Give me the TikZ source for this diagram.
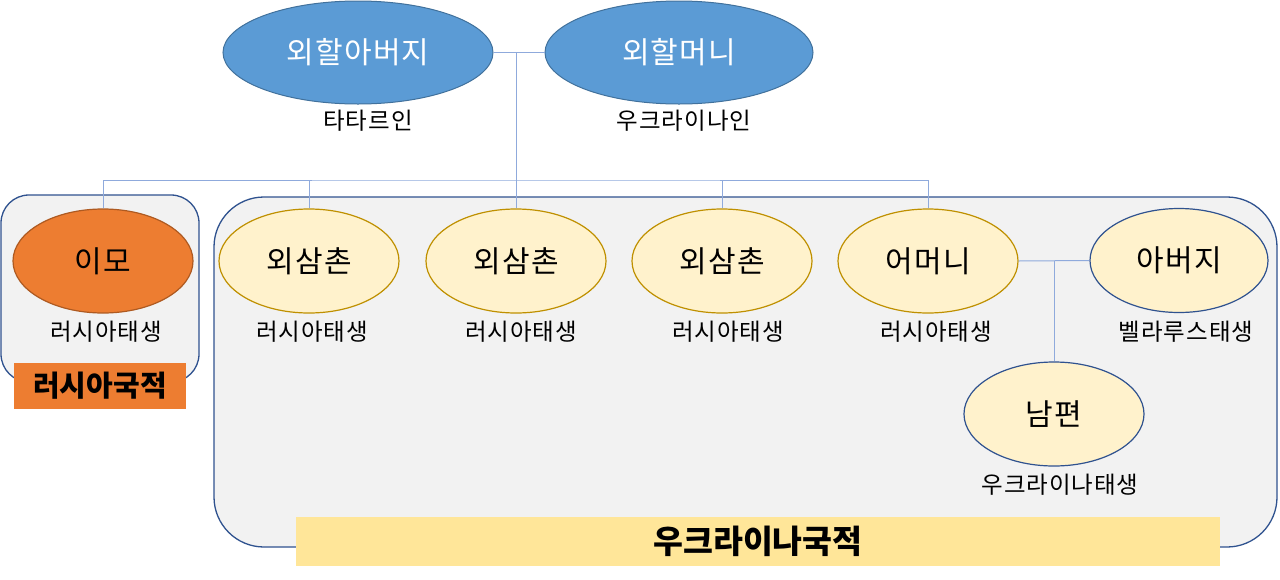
\documentclass[tikz,border=0pt]{standalone}
\usepackage{fontspec}
\setmainfont{Noto Sans CJK KR}
\newfontfamily\spaced[LetterSpace=4]{Noto Sans CJK KR}
\usetikzlibrary{shapes.geometric}
\definecolor{gpfill}{HTML}{5B9BD5}
\definecolor{gpline}{HTML}{41719C}
\definecolor{orfill}{HTML}{ED7D31}
\definecolor{orline}{HTML}{AE5A21}
\definecolor{yefill}{HTML}{FFF2CC}
\definecolor{yeline}{HTML}{BF9000}
\definecolor{bluline}{HTML}{2F528F}
\definecolor{boxfill}{HTML}{F2F2F2}
\definecolor{conn}{HTML}{8FAADC}
\definecolor{labyel}{HTML}{FFE699}
\tikzset{
  gpnode/.style={ellipse, draw=gpline, fill=gpfill, line width=1pt, minimum width=270pt, minimum height=103pt, inner sep=0pt, text=white, font=\spaced\fontsize{30}{34}\selectfont},
  kidnode/.style={ellipse, draw=yeline, fill=yefill, line width=1.2pt, minimum width=180pt, minimum height=104pt, inner sep=0pt, font=\spaced\fontsize{30}{34}\selectfont},
  bluekid/.style={kidnode, draw=bluline},
  imonode/.style={kidnode, draw=orline, fill=orfill},
  subtxt/.style={inner sep=0pt, font=\spaced\fontsize{23.5}{27}\selectfont},
  grpbox/.style={draw=bluline, fill=boxfill, line width=1.3pt},
  connline/.style={draw=conn, line width=1pt},
  labbox/.style={inner sep=0pt, font=\bfseries\fontsize{29}{32}\selectfont}
}
\begin{document}
\begin{tikzpicture}[x=1pt,y=-1pt]
\useasboundingbox (0,0) rectangle (1280,579);
% group boxes
\path[grpbox, rounded corners=28pt] (1,195) rectangle (199,382);
\path[grpbox, rounded corners=50pt] (214,197) rectangle (1277,547);
% nationality labels
\node[labbox, fill=orfill, minimum width=172pt, minimum height=46pt] (ruslab) at (100,386) {러시아국적};
\node[labbox, fill=labyel, minimum width=924pt, minimum height=49pt, font=\bfseries\fontsize{32.5}{36}\selectfont] (ukrlab) at (758,541.5) {우크라이나국적};
% persons
\node[gpnode] (gf) at (358,52.5) {외할아버지};
\node[gpnode, minimum width=268pt] (gm) at (679,52.5) {외할머니};
\node[imonode] (imo) at (103,261) {이모};
\node[kidnode] (u1) at (309,261) {외삼촌};
\node[kidnode] (u2) at (516,261) {외삼촌};
\node[kidnode] (u3) at (722,261) {외삼촌};
\node[kidnode] (mother) at (928,261) {어머니};
\node[bluekid, minimum width=178pt] (father) at (1179,260.5) {아버지};
\node[bluekid] (husband) at (1054,414) {남편};
% sub texts
\node[subtxt] (gft) at (368,121) {타타르인};
\node[subtxt] (gmt) at (684,121) {우크라이나인};
\node[subtxt] (imot) at (106,332) {러시아태생};
\node[subtxt] (u1t) at (312,332) {러시아태생};
\node[subtxt] (u2t) at (521,332) {러시아태생};
\node[subtxt] (u3t) at (728,332) {러시아태생};
\node[subtxt] (mothert) at (936,332) {러시아태생};
\node[subtxt] (fathert) at (1186,332) {벨라루스태생};
\node[subtxt] (husbandt) at (1060,485) {우크라이나태생};
% connectors
\coordinate (gpj) at (516,52.5);
\coordinate (bar) at (516,180);
\coordinate (cj) at (husband.north |- mother.east);
\draw[connline] (gf.east) -- (gm.west);
\draw[connline] (gpj) -- (bar);
\draw[connline] (imo.north) |- (bar) -| (mother.north);
\draw[connline] (u1.north) -- (u1.north |- bar);
\draw[connline] (u2.north) -- (u2.north |- bar);
\draw[connline] (u3.north) -- (u3.north |- bar);
\draw[connline] (mother.east) -- (father.west);
\draw[connline] (cj) -- (husband.north);
\end{tikzpicture}
\end{document}
